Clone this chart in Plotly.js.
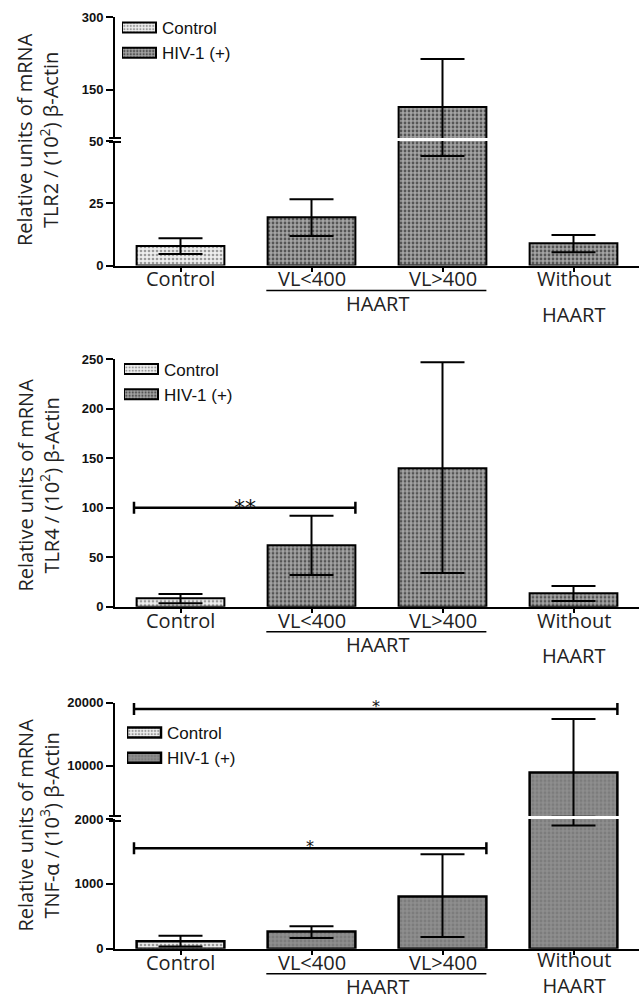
<!DOCTYPE html>
<html>
<head>
<meta charset="utf-8">
<script src="https://cdn.plot.ly/plotly-3.0.1.min.js"></script>
<style>html,body{margin:0;padding:0;background:#fff}#chart{width:639px;height:1002px}</style>
</head>
<body>
<div id="chart"></div>
<script>
// ---------- data ----------
const categories = ['Control', 'VL&lt;400', 'VL&gt;400', 'Without'];
const catIndex = [0, 1, 2, 3];
const seriesNames = ['Control', 'HIV-1 (+)'];
const groupLabel = 'HAART';
const groupMembers = [1, 2];
const secondLineLabel = 'HAART';
const secondLineCat = 3;

// TLR2 panel
const tlr2Mean  = [7.8, 19.4, 114, 8.9];
const tlr2Upper = [10.9, 26.6, 213, 12.2];
const tlr2Lower = [4.6, 11.8, 44, 5.3];
// TLR4 panel
const tlr4Mean  = [8.5, 62, 140, 13.5];
const tlr4Upper = [12.8, 92, 247, 21];
const tlr4Lower = [3.6, 32, 34, 5.8];
// TNF-alpha panel
const tnfMean  = [118, 265, 806, 8900];
const tnfUpper = [203, 348, 1458, 17400];
const tnfLower = [36, 166, 181, 1900];

// significance brackets
const sig2From = [0], sig2To = [1], sig2Level = [100], sig2Label = ['**'];
const sig3From = [0, 0], sig3To = [3, 2], sig3Level = [19000, 1550], sig3Label = ['*', '*'], sig3Axis = ['upper', 'lower'];

const yTitles = [
  'Relative units of mRNA<br>TLR2 / (10<sup>2</sup>) β-Actin',
  'Relative units of mRNA<br>TLR4 / (10<sup>2</sup>) β-Actin',
  'Relative units of mRNA<br>TNF-α / (10<sup>3</sup>) β-Actin'
];

// ---------- layout geometry (pixels) ----------
const W = 639, H = 1002;
const py = v => 1 - v / H;
const X0 = 115 / W;
const BW = 0.67;
const lineFont = 'Open Sans';

const ctrlPattern = {shape: '.', bgcolor: '#eeeeee', fgcolor: '#9a9a9a', size: 4, solidity: 0.35};
const hivPattern  = {shape: '.', bgcolor: '#a4a4a4', fgcolor: '#555555', size: 4, solidity: 0.38};
const hivPattern3 = {shape: '.', bgcolor: '#8e8e8e', fgcolor: '#7c7c7c', size: 4, solidity: 0.4};

function pick(arr, idx) { return idx.map(i => arr[i]); }

function barPair(mean, up, lo, xa, ya, legend, showLeg, hp, lw) {
  const out = [];
  const groups = [[0], [1, 2, 3]];
  groups.forEach((idx, g) => {
    const m = pick(mean, idx);
    out.push({
      type: 'bar', x: idx, y: m, width: idx.map(() => BW),
      xaxis: xa, yaxis: ya, name: seriesNames[g], legend: legend,
      legendgroup: legend + g, showlegend: showLeg,
      marker: {color: g === 0 ? '#eeeeee' : '#a0a0a0', pattern: g === 0 ? ctrlPattern : hp,
               line: {color: '#000', width: lw}},
      error_y: {type: 'data', symmetric: false,
                array: idx.map(i => up[i] - mean[i]),
                arrayminus: idx.map(i => mean[i] - lo[i]),
                color: '#000', thickness: 2, width: 22},
      hoverinfo: 'skip', cliponaxis: true
    });
  });
  return out;
}

const data = [].concat(
  barPair(tlr2Mean, tlr2Upper, tlr2Lower, 'x', 'y', 'legend', true, hivPattern, 2),
  barPair(tlr2Mean, tlr2Upper, tlr2Lower, 'x', 'y2', 'legend', false, hivPattern, 2),
  barPair(tlr4Mean, tlr4Upper, tlr4Lower, 'x2', 'y3', 'legend2', true, hivPattern, 2),
  barPair(tnfMean, tnfUpper, tnfLower, 'x3', 'y4', 'legend3', true, hivPattern3, 2.5),
  barPair(tnfMean, tnfUpper, tnfLower, 'x3', 'y5', 'legend3', false, hivPattern3, 2.5)
);

const tickFontY = {family: 'Liberation Sans', size: 13, color: '#111', weight: 'bold'};
const labelFont = {family: lineFont, size: 20, color: '#222'};

function xAx(anchor) {
  return {domain: [X0, 1], range: [-0.5, 3.5], anchor: anchor, tickvals: catIndex, showticklabels: false,
          showline: true, linewidth: 2, linecolor: '#000', ticks: 'outside', ticklen: 4, tickwidth: 2,
          tickcolor: '#000', showgrid: false, zeroline: false, fixedrange: true};
}
function yAx(anchor, top, bottom, range, tickvals) {
  return {domain: [py(bottom), py(top)], range: range, anchor: anchor, tickvals: tickvals, tickformat: 'd',
          showline: true, linewidth: 2, linecolor: '#000', ticks: 'outside', ticklen: 7, tickwidth: 2,
          tickcolor: '#000', showgrid: false, zeroline: false, fixedrange: true, tickfont: tickFontY};
}

const axisPx = [265.5, 606.7, 948.8];
const shapes = [];
const annotations = [];

// axis-break marks
[[138, 142], [816, 821]].forEach(pair => pair.forEach(v => shapes.push({
  type: 'line', xref: 'paper', yref: 'paper', x0: 109 / W, x1: 121 / W, y0: py(v), y1: py(v),
  line: {color: '#000', width: 2}})));

// category labels, group underline + labels under each panel
['x', 'x2', 'x3'].forEach((xr, k) => {
  const base = axisPx[k];
  const tight = base + 49 > H - 16;   // not enough room for a detached second line
  catIndex.forEach((c, i) => {
    if (tight && c === secondLineCat) {
      annotations.push({xref: xr, yref: 'paper', x: c, y: py(H - 1), yanchor: 'bottom',
        text: categories[i] + '<br>' + secondLineLabel, showarrow: false, font: labelFont});
    } else {
      annotations.push({xref: xr, yref: 'paper', x: c, y: py(base + 13.5),
        yanchor: 'middle', text: categories[i], showarrow: false, font: labelFont});
    }
  });
  shapes.push({type: 'line', xref: xr, yref: 'paper',
    x0: groupMembers[0] - BW / 2 - 0.01, x1: groupMembers[groupMembers.length - 1] + BW / 2,
    y0: py(base + 25), y1: py(base + 25), line: {color: '#000', width: 1.5}});
  annotations.push({xref: xr, yref: 'paper', x: (groupMembers[0] + groupMembers[groupMembers.length - 1]) / 2,
    y: py(base + 38), yanchor: 'middle', text: groupLabel, showarrow: false, font: labelFont});
  if (!tight) {
    annotations.push({xref: xr, yref: 'paper', x: secondLineCat,
      y: py(base + 49), yanchor: 'middle', text: secondLineLabel, showarrow: false, font: labelFont});
  }
});

// y titles
const titleCenters = [139.5, 485, 825];
titleCenters.forEach((c, k) => annotations.push({xref: 'paper', yref: 'paper', x: 37.5 / W, y: py(c),
  xanchor: 'center', yanchor: 'middle', textangle: -90, text: yTitles[k], showarrow: false,
  font: {family: lineFont, size: 20, color: '#222'}}));

// significance brackets
function bracket(xr, yr, from, to, level, label, fs, shift) {
  const a = from - BW / 2 - 0.02, b = to + BW / 2;
  shapes.push({type: 'line', xref: xr, yref: yr, x0: a, x1: b, y0: level, y1: level, line: {color: '#000', width: 2.5}});
  [a, b].forEach(xx => shapes.push({type: 'line', xref: xr, yref: yr, ysizemode: 'pixel', yanchor: level,
    x0: xx, x1: xx, y0: -6, y1: 6, line: {color: '#000', width: 2.5}}));
  annotations.push({xref: xr, yref: yr, x: (a + b) / 2, y: level, yanchor: 'middle', yshift: shift, text: label,
    showarrow: false, font: {family: 'DejaVu Sans', size: fs, color: '#111'}});
}
sig2From.forEach((f, i) => bracket('x2', 'y3', f, sig2To[i], sig2Level[i], sig2Label[i], 22, 0));
sig3From.forEach((f, i) => bracket('x3', sig3Axis[i] === 'upper' ? 'y5' : 'y4', f, sig3To[i], sig3Level[i], sig3Label[i], 16, 2));

function leg(x, top) {
  return {x: x / W, y: py(top), xanchor: 'left', yanchor: 'top', bgcolor: 'rgba(0,0,0,0)', borderwidth: 0,
          font: {family: 'Liberation Sans', size: 17, color: '#111'}, traceorder: 'normal', itemclick: false};
}

const layout = {
  width: W, height: H, margin: {l: 0, r: 0, t: 0, b: 0},
  paper_bgcolor: '#fff', plot_bgcolor: 'rgba(0,0,0,0)',
  barmode: 'overlay', showlegend: true,
  xaxis: xAx('y'), xaxis2: xAx('y3'), xaxis3: xAx('y4'),
  yaxis: yAx('x', 141, 265.5, [0, 50], [0, 25, 50]),
  yaxis2: yAx('x', 17, 138, [50, 300], [150, 300]),
  yaxis3: yAx('x2', 359.3, 606.7, [0, 250], [0, 50, 100, 150, 200, 250]),
  yaxis4: yAx('x3', 819, 948.8, [0, 2000], [0, 1000, 2000]),
  yaxis5: yAx('x3', 702.7, 816, [2000, 20000], [10000, 20000]),
  legend: leg(122, 10), legend2: leg(124, 351.5), legend3: leg(127, 715),
  shapes: shapes, annotations: annotations
};

const SW = 'M14,5H-20V-5H14Z';
function fixSwatches() {
  document.querySelectorAll('#chart .legendpoints path').forEach(p => {
    if (p.getAttribute('d') !== SW) p.setAttribute('d', SW);
  });
}
Plotly.newPlot('chart', data, layout, {displayModeBar: false, staticPlot: true}).then(gd => {
  fixSwatches();
  gd.on('plotly_afterplot', fixSwatches);
  setTimeout(fixSwatches, 0);
  setTimeout(fixSwatches, 100);
  setTimeout(fixSwatches, 400);
});
</script>
</body>
</html>
